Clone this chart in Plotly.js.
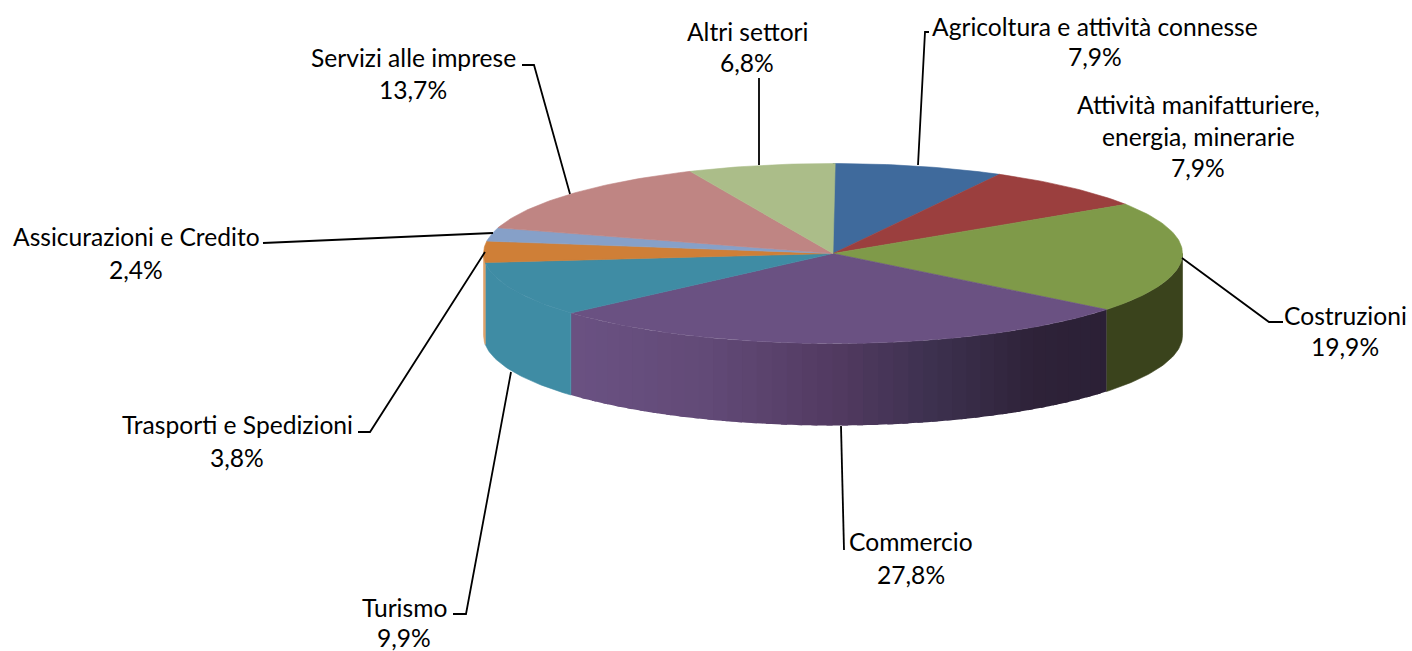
<!DOCTYPE html>
<html>
<head>
<meta charset="utf-8">
<script src="https://cdn.plot.ly/plotly-3.0.1.min.js"></script>
<style>html,body{margin:0;padding:0;background:#fff}#chart{width:1412px;height:651px}</style>
</head>
<body>
<div id="chart"></div>
<script>
const categories = ["Agricoltura e attività connesse", "Attività manifatturiere,<br>energia, minerarie", "Costruzioni", "Commercio", "Turismo", "Trasporti e Spedizioni", "Assicurazioni e Credito", "Servizi alle imprese", "Altri settori"];
const values = [7.9, 7.9, 19.9, 27.8, 9.9, 3.8, 2.4, 13.7, 6.8];
const topColors = ["#3f6a9c", "#9b3f3e", "#7f9a49", "#6a5182", "#3f8ca4", "#cf7f37", "#86a0c8", "#bf8583", "#abbd89"];
const wallColors = ["#2c4a6d", "#6c2c2b", "#3a431c", null, "#3f8ca4", "#e0a26a", "#5e7090", "#85605e", "#77845f"];
const purpleStops = [[570, "#6a5182"], [700, "#624a77"], [830, "#523a61"], [930, "#3c304e"], [1030, "#2e2238"], [1106, "#2b2036"]];

const labelX = [1095, 1198, 1345, 911, 404, 237, 136, 413, 747];
const labelY = [[26, 56], [104, 136, 167], [315, 346], [541, 574], [607, 637], [424, 457], [236, 269], [57, 89], [31, 62]];
const leaders = [
  [[918, 165], [925, 32], [929, 32]],
  [[1182, 258], [1269, 322], [1283, 322]],
  [[841, 426], [844, 550]],
  [[511, 372], [466, 614], [453, 614]],
  [[485, 252], [370, 432], [358, 432]],
  [[493, 233], [278, 243], [263, 243]],
  [[570, 194], [534, 65], [522, 65]],
  [[759, 165], [759, 78]]
];

const cx = 833, cy = 253.5, rx = 349.5, ry = 90, depth = 82;
const px = a => cx + rx * Math.sin(a * Math.PI / 180);
const py = a => cy - ry * Math.cos(a * Math.PI / 180);
const rng = (a, b, st) => { const o = []; const n = Math.max(1, Math.ceil((b - a) / st)); for (let i = 0; i <= n; i++) o.push(a + (b - a) * i / n); return o; };
const hex = c => [1, 3, 5].map(i => parseInt(c.substr(i, 2), 16));
function purpleAt(x) {
  for (let i = 0; i < purpleStops.length - 1; i++) {
    const [x0, c0] = purpleStops[i], [x1, c1] = purpleStops[i + 1];
    if (x <= x1) {
      const t = Math.max(0, (x - x0) / (x1 - x0)), p = hex(c0), q = hex(c1);
      return "rgb(" + p.map((v, k) => Math.round(v + (q[k] - v) * t)).join(",") + ")";
    }
  }
  return purpleStops[purpleStops.length - 1][1];
}
function poly(xs, ys, color, outline) {
  return { x: xs.concat([xs[0]]), y: ys.concat([ys[0]]), mode: outline ? "lines" : "none", fill: "toself", fillcolor: color, line: { color: color, width: outline ? 0.6 : 0 }, hoverinfo: "skip", showlegend: false, type: "scatter" };
}
function wall(a, b, color, outline) {
  const ang = rng(a, b, 1);
  const xs = ang.map(px).concat(ang.slice().reverse().map(px));
  const ys = ang.map(py).concat(ang.slice().reverse().map(t => py(t) + depth));
  return poly(xs, ys, color, outline);
}

const traces = [];
let acc = 0;
const spans = values.map(v => { const s = [acc, acc + v * 3.6]; acc += v * 3.6; return s; });
spans.forEach((s, i) => {
  const a = Math.max(s[0], 90), b = Math.min(s[1], 270);
  if (b <= a) return;
  if (wallColors[i]) {
    traces.push(wall(a, b, wallColors[i], true));
  } else {
    const bands = 40;
    for (let k = 0; k < bands; k++) {
      const t0 = a + (b - a) * k / bands, t1 = a + (b - a) * (k + 1) / bands;
      traces.push(wall(Math.max(a, t0 - 1), t1, purpleAt((px(t0) + px(t1)) / 2), false));
    }
  }
});
spans.forEach((s, i) => {
  const ang = rng(s[0], s[1], 1);
  traces.push(poly([cx].concat(ang.map(px)), [cy].concat(ang.map(py)), topColors[i], true));
});
leaders.forEach(l => {
  traces.push({ x: l.map(p => p[0]), y: l.map(p => p[1]), mode: "lines", line: { color: "#000", width: 1.8 }, hoverinfo: "skip", showlegend: false, type: "scatter" });
});

const annotations = [];
const fontSpec = { family: "Lato, Carlito, sans-serif", size: 24.6, color: "#000" };
categories.forEach((c, i) => {
  const lines = c.split("<br>").concat([values[i].toFixed(1).replace(".", ",") + "%"]);
  lines.forEach((t, k) => annotations.push({ x: labelX[i], y: labelY[i][k], xref: "x", yref: "y", text: t, showarrow: false, xanchor: "center", yanchor: "middle", font: fontSpec }));
});

Plotly.newPlot("chart", traces, {
  width: 1412, height: 651,
  margin: { l: 0, r: 0, t: 0, b: 0 },
  paper_bgcolor: "#fff", plot_bgcolor: "#fff",
  showlegend: false,
  xaxis: { range: [0, 1412], visible: false, fixedrange: true },
  yaxis: { range: [651, 0], visible: false, fixedrange: true },
  annotations: annotations
}, { displayModeBar: false, staticPlot: true });
</script>
</body>
</html>
